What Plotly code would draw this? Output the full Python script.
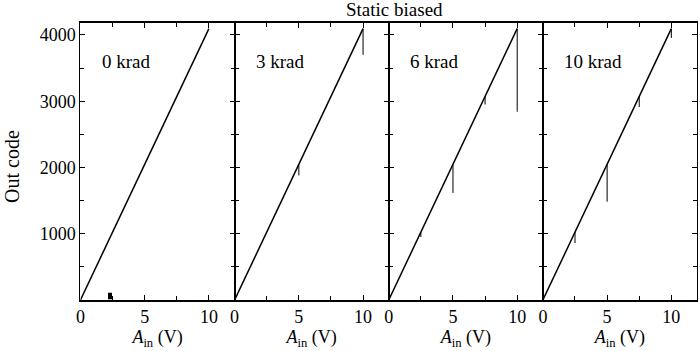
import plotly.graph_objects as go

# ---- data ----
panels = ["0 krad", "3 krad", "6 krad", "10 krad"]
vin = [0, 10]
code = [0, 4095]
# glitches per panel: x position, top code, bottom code
glitch_x = [[2.3], [5.0, 10.0], [2.5, 5.0, 7.5, 10.0], [2.5, 5.0, 7.5, 10.0]]
glitch_top = [[110], [2048, 4095], [1024, 2048, 3072, 4095], [1024, 2048, 3072, 4095]]
glitch_bot = [[10], [1880, 3700], [950, 1615, 2950, 2842], [860, 1484, 2913, 3955]]
x_ticks = [0, 5, 10]
x_minor = [2.5, 7.5]
y_ticks = [1000, 2000, 3000, 4000]
y_minor = [500, 1500, 2500, 3500]

FONT = "Liberation Serif"
fig = go.Figure()

L, R, T, B = 76, 697, 23, 300
W, H = 700, 351
pw = (R - L) / 4

for i, name in enumerate(panels):
    xa = "x" if i == 0 else f"x{i+1}"
    ya = "y" if i == 0 else f"y{i+1}"
    fig.add_trace(go.Scatter(x=vin, y=code, mode="lines", xaxis=xa, yaxis=ya,
                             line=dict(color="black", width=1.5), showlegend=False))
    gx, gy = [], []
    for x, t, b in zip(glitch_x[i], glitch_top[i], glitch_bot[i]):
        gx += [x, x, None]
        gy += [t, b, None]
    fig.add_trace(go.Scatter(x=gx, y=gy, mode="lines", xaxis=xa, yaxis=ya,
                             line=dict(color="black", width=4 if i == 0 else 1),
                             showlegend=False))
    x0 = (L + i * pw) / W
    x1 = (L + (i + 1) * pw) / W
    common = dict(showline=True, mirror="ticks", linecolor="black",
                  ticks="inside", tickcolor="black", ticklen=5, tickwidth=1,
                  showgrid=False, zeroline=False,
                  tickfont=dict(family=FONT, size=18, color="black"))
    xkey = "xaxis" if i == 0 else f"xaxis{i+1}"
    ykey = "yaxis" if i == 0 else f"yaxis{i+1}"
    xdict = dict(common, domain=[x0, x1], range=[0, 12], tickvals=x_ticks, linewidth=1.5,
                 minor=dict(tickvals=x_minor, ticks="inside", ticklen=4, tickcolor="black"),
                 anchor=ya,
                 title=dict(text="<i>A</i><sub>in</sub> (V)", standoff=2,
                            font=dict(family=FONT, size=18, color="black")))
    ydict = dict(common, domain=[1 - B / H, 1 - T / H], range=[0, 4180], linewidth=1,
                 tickvals=y_ticks, showticklabels=(i == 0),
                 minor=dict(tickvals=y_minor, ticks="inside", ticklen=4, tickcolor="black"),
                 anchor=xa)
    fig.update_layout({xkey: xdict, ykey: ydict})
    fig.add_annotation(x=1.5, y=3600, xref=xa, yref=ya, text=name, showarrow=False,
                       xanchor="left", yanchor="middle",
                       font=dict(family=FONT, size=19, color="black"))

fig.add_annotation(x=392 / W, y=1 - 10 / H, xref="paper", yref="paper", text="Static biased",
                   showarrow=False, xanchor="center", yanchor="middle",
                   font=dict(family=FONT, size=19, color="black"))
fig.add_annotation(x=7 / W, y=1 - 166 / H, xref="paper", yref="paper", text="Out code",
                   textangle=-90, showarrow=False, xanchor="center", yanchor="middle",
                   font=dict(family=FONT, size=20, color="black"))

fig.update_layout(width=W, height=H, margin=dict(l=0, r=0, t=0, b=0),
                  font=dict(family=FONT, color="black"),
                  plot_bgcolor="white", paper_bgcolor="white")
fig.write_html("out.html")
